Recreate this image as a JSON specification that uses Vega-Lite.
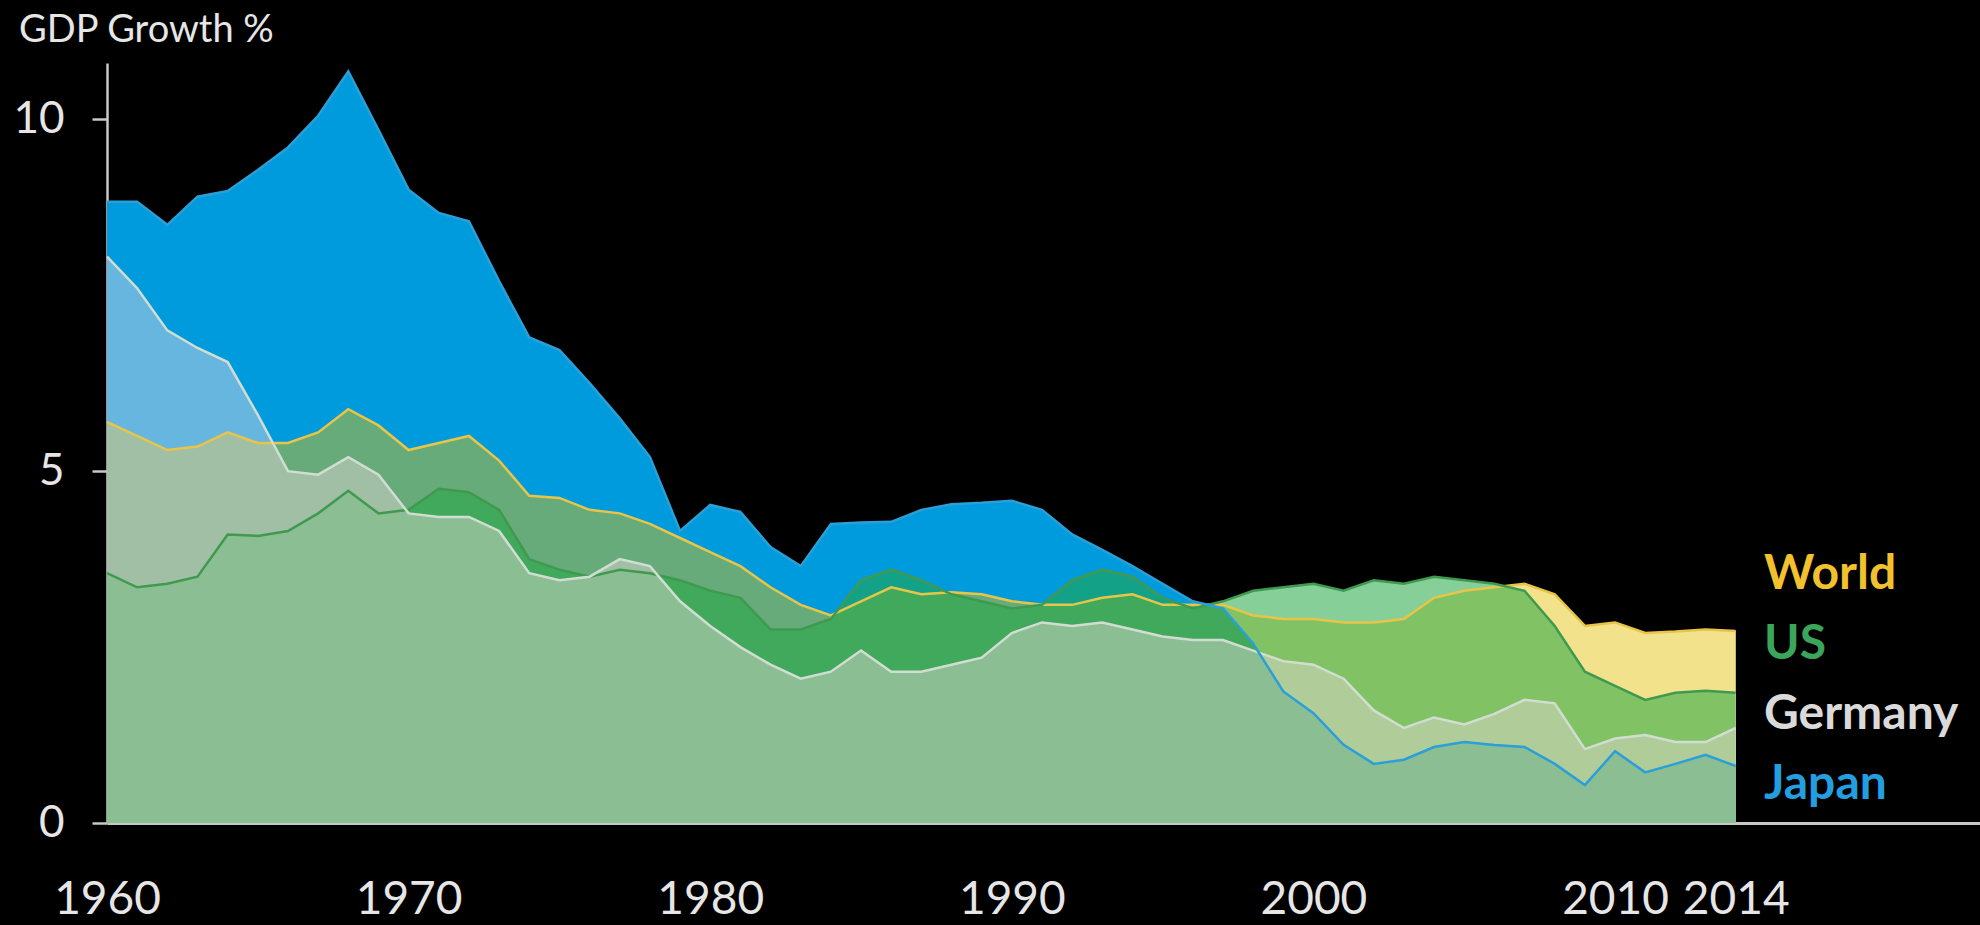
{
  "$schema": "https://vega.github.io/schema/vega-lite/v6.json",
  "width": 1873,
  "height": 760,
  "autosize": {"type": "none"},
  "padding": {"left": 107, "top": 63, "right": 0, "bottom": 102},
  "background": "#000000",
  "config": {"view": {"stroke": null}, "font": "Lato"},
  "title": {"text": "GDP Growth %", "anchor": "start", "frame": "group", "dx": -88, "offset": -17, "baseline": "alphabetic", "font": "Lato", "fontSize": 38, "fontWeight": "normal", "color": "#e6e6e6"},
  "data": {"values": [
    {"year": 1960, "Japan": 8.83, "World": 5.70, "US": 3.55, "Germany": 8.05},
    {"year": 1961, "Japan": 8.83, "World": 5.50, "US": 3.35, "Germany": 7.60},
    {"year": 1962, "Japan": 8.50, "World": 5.30, "US": 3.40, "Germany": 7.00},
    {"year": 1963, "Japan": 8.90, "World": 5.35, "US": 3.50, "Germany": 6.75},
    {"year": 1964, "Japan": 8.98, "World": 5.55, "US": 4.10, "Germany": 6.55},
    {"year": 1965, "Japan": 9.28, "World": 5.40, "US": 4.08, "Germany": 5.80},
    {"year": 1966, "Japan": 9.60, "World": 5.40, "US": 4.15, "Germany": 5.00},
    {"year": 1967, "Japan": 10.05, "World": 5.55, "US": 4.40, "Germany": 4.95},
    {"year": 1968, "Japan": 10.68, "World": 5.88, "US": 4.72, "Germany": 5.20},
    {"year": 1969, "Japan": 9.85, "World": 5.65, "US": 4.40, "Germany": 4.95},
    {"year": 1970, "Japan": 9.00, "World": 5.30, "US": 4.45, "Germany": 4.40},
    {"year": 1971, "Japan": 8.67, "World": 5.40, "US": 4.75, "Germany": 4.35},
    {"year": 1972, "Japan": 8.55, "World": 5.50, "US": 4.70, "Germany": 4.35},
    {"year": 1973, "Japan": 7.70, "World": 5.15, "US": 4.45, "Germany": 4.15},
    {"year": 1974, "Japan": 6.90, "World": 4.65, "US": 3.75, "Germany": 3.55},
    {"year": 1975, "Japan": 6.72, "World": 4.62, "US": 3.60, "Germany": 3.45},
    {"year": 1976, "Japan": 6.25, "World": 4.45, "US": 3.50, "Germany": 3.50},
    {"year": 1977, "Japan": 5.75, "World": 4.40, "US": 3.60, "Germany": 3.75},
    {"year": 1978, "Japan": 5.20, "World": 4.25, "US": 3.55, "Germany": 3.65},
    {"year": 1979, "Japan": 4.15, "World": 4.05, "US": 3.45, "Germany": 3.15},
    {"year": 1980, "Japan": 4.52, "World": 3.85, "US": 3.30, "Germany": 2.80},
    {"year": 1981, "Japan": 4.42, "World": 3.65, "US": 3.20, "Germany": 2.50},
    {"year": 1982, "Japan": 3.92, "World": 3.35, "US": 2.75, "Germany": 2.25},
    {"year": 1983, "Japan": 3.65, "World": 3.10, "US": 2.75, "Germany": 2.05},
    {"year": 1984, "Japan": 4.25, "World": 2.95, "US": 2.90, "Germany": 2.15},
    {"year": 1985, "Japan": 4.27, "World": 3.15, "US": 3.45, "Germany": 2.45},
    {"year": 1986, "Japan": 4.28, "World": 3.35, "US": 3.60, "Germany": 2.15},
    {"year": 1987, "Japan": 4.45, "World": 3.25, "US": 3.45, "Germany": 2.15},
    {"year": 1988, "Japan": 4.53, "World": 3.28, "US": 3.25, "Germany": 2.25},
    {"year": 1989, "Japan": 4.55, "World": 3.25, "US": 3.15, "Germany": 2.35},
    {"year": 1990, "Japan": 4.58, "World": 3.15, "US": 3.05, "Germany": 2.70},
    {"year": 1991, "Japan": 4.45, "World": 3.10, "US": 3.10, "Germany": 2.85},
    {"year": 1992, "Japan": 4.10, "World": 3.10, "US": 3.45, "Germany": 2.80},
    {"year": 1993, "Japan": 3.88, "World": 3.20, "US": 3.60, "Germany": 2.85},
    {"year": 1994, "Japan": 3.65, "World": 3.25, "US": 3.50, "Germany": 2.75},
    {"year": 1995, "Japan": 3.40, "World": 3.10, "US": 3.20, "Germany": 2.65},
    {"year": 1996, "Japan": 3.15, "World": 3.10, "US": 3.05, "Germany": 2.60},
    {"year": 1997, "Japan": 3.05, "World": 3.10, "US": 3.15, "Germany": 2.60},
    {"year": 1998, "Japan": 2.55, "World": 2.95, "US": 3.30, "Germany": 2.45},
    {"year": 1999, "Japan": 1.87, "World": 2.90, "US": 3.35, "Germany": 2.30},
    {"year": 2000, "Japan": 1.56, "World": 2.90, "US": 3.40, "Germany": 2.25},
    {"year": 2001, "Japan": 1.11, "World": 2.85, "US": 3.30, "Germany": 2.05},
    {"year": 2002, "Japan": 0.84, "World": 2.85, "US": 3.45, "Germany": 1.60},
    {"year": 2003, "Japan": 0.90, "World": 2.90, "US": 3.40, "Germany": 1.35},
    {"year": 2004, "Japan": 1.08, "World": 3.20, "US": 3.50, "Germany": 1.50},
    {"year": 2005, "Japan": 1.15, "World": 3.30, "US": 3.45, "Germany": 1.40},
    {"year": 2006, "Japan": 1.11, "World": 3.35, "US": 3.40, "Germany": 1.55},
    {"year": 2007, "Japan": 1.08, "World": 3.40, "US": 3.30, "Germany": 1.75},
    {"year": 2008, "Japan": 0.84, "World": 3.25, "US": 2.80, "Germany": 1.70},
    {"year": 2009, "Japan": 0.54, "World": 2.80, "US": 2.15, "Germany": 1.05},
    {"year": 2010, "Japan": 1.02, "World": 2.85, "US": 1.95, "Germany": 1.20},
    {"year": 2011, "Japan": 0.72, "World": 2.70, "US": 1.75, "Germany": 1.25},
    {"year": 2012, "Japan": 0.84, "World": 2.72, "US": 1.85, "Germany": 1.15},
    {"year": 2013, "Japan": 0.97, "World": 2.75, "US": 1.88, "Germany": 1.15},
    {"year": 2014, "Japan": 0.81, "World": 2.73, "US": 1.85, "Germany": 1.35}
  ]},
  "transform": [{"fold": ["World", "US", "Germany", "Japan"], "as": ["country", "gdp"]}],
  "encoding": {
    "x": {"field": "year", "type": "quantitative",
      "scale": {"domain": [1960, 2022.1], "nice": false, "zero": false},
      "axis": {"values": [1960, 1970, 1980, 1990, 2000, 2010, 2014], "format": "d", "title": null, "ticks": false, "grid": false,
        "domainColor": "#c8c8c8", "domainWidth": 3, "labelFont": "Lato", "labelFontSize": 46, "labelColor": "#e6e6e6",
        "labelPadding": 54, "labelFlush": false, "labelOverlap": false}},
    "y": {"field": "gdp", "type": "quantitative", "stack": null,
      "scale": {"domain": [0, 10.8], "nice": false},
      "axis": {"values": [0, 5, 10], "title": null, "grid": false, "tickSize": 15, "tickColor": "#c8c8c8", "tickWidth": 2.5,
        "domainColor": "#c8c8c8", "domainWidth": 2.5, "labelFont": "Lato", "labelFontSize": 44, "labelColor": "#e6e6e6", "labelPadding": 28}}
  },
  "layer": [
    {"mark": {"type": "area", "color": "#ffffff", "opacity": 1}, "encoding": {"detail": {"field": "country"}}},
    {"transform": [{"filter": "datum.country === 'Japan'"}], "mark": {"type": "area", "color": "#009bdc", "opacity": 1}},
    {"transform": [{"filter": "datum.country === 'World'"}], "mark": {"type": "area", "color": "#e2bf00", "opacity": 0.45}},
    {"transform": [{"filter": "datum.country === 'US'"}], "mark": {"type": "area", "color": "#23a743", "opacity": 0.55}},
    {"transform": [{"filter": "datum.country === 'Germany'"}], "mark": {"type": "area", "color": "#f2dce2", "opacity": 0.42}},
    {"mark": {"type": "line", "strokeWidth": 2.5},
      "encoding": {"color": {"field": "country", "type": "nominal",
        "scale": {"domain": ["World", "US", "Germany", "Japan"], "range": ["#e8c547", "#3f9a50", "#d2ddd2", "#2a9fd8"]},
        "legend": {"orient": "none", "legendX": 1609, "legendY": 488, "title": null, "padding": 0,
          "labelFont": "Lato", "labelFontSize": 48, "labelFontWeight": "bold", "labelLimit": 400,
          "labelColor": {"expr": "datum.value === 'World' ? '#f2c12e' : datum.value === 'US' ? '#3ba55c' : datum.value === 'Germany' ? '#dadada' : '#239fe0'"},
          "symbolSize": 0, "symbolOpacity": 0, "symbolStrokeWidth": 0, "symbolType": "circle", "labelOffset": 0, "rowPadding": 22}}}}
  ]
}
